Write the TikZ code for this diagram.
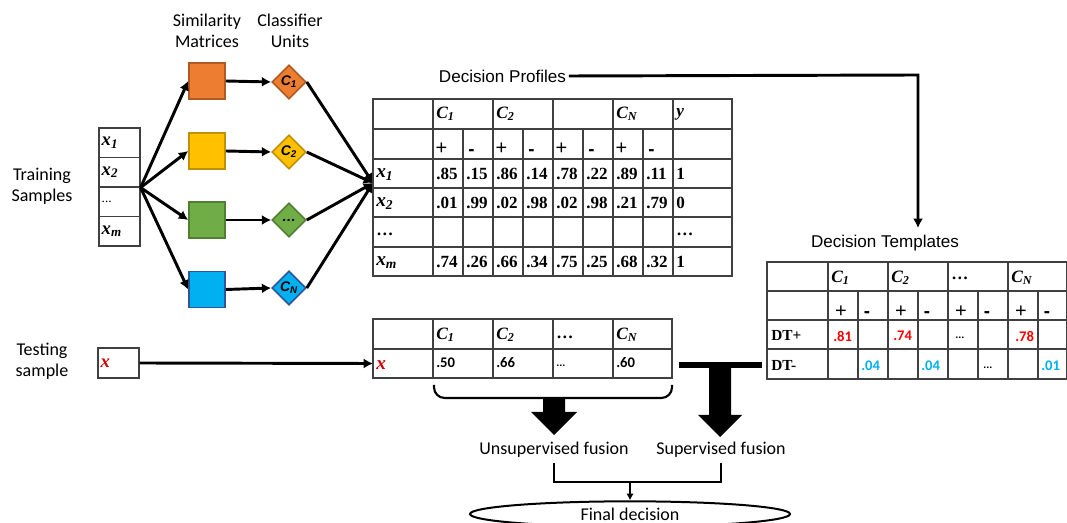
\documentclass[tikz,border=0pt]{standalone}
\usepackage{fontspec}
\setmainfont{Liberation Serif}
\newfontfamily\calib{Carlito}
\newfontfamily\arial{Liberation Sans}
\newfontfamily\tnr{Liberation Serif}
\usetikzlibrary{shapes.geometric,arrows.meta}
\definecolor{orF}{HTML}{ED7D31}\definecolor{orD}{HTML}{AE5A21}
\definecolor{yeF}{HTML}{FFC000}\definecolor{yeD}{HTML}{BF9000}
\definecolor{grF}{HTML}{70AD47}\definecolor{grD}{HTML}{507E32}
\definecolor{blF}{HTML}{00B0F0}\definecolor{blD}{HTML}{2F5597}
\definecolor{valred}{HTML}{FF0000}\definecolor{xred}{HTML}{D00000}
\definecolor{valblue}{HTML}{00B0F0}\definecolor{gridc}{HTML}{404040}
\begin{document}
\begin{tikzpicture}[x=0.75pt,y=-0.75pt,
  lbl/.style={font=\calib\fontsize{13.5}{16}\selectfont, align=center, inner sep=0pt},
  ttl/.style={font=\arial\fontsize{12.8}{15}\selectfont, inner sep=2pt},
  sq/.style={minimum size=27pt, inner sep=0pt, line width=1.2pt},
  dia/.style={diamond, aspect=1, minimum width=25.5pt, minimum height=25.5pt, inner sep=0pt, line width=1.2pt,
    font=\arial\bfseries\itshape\fontsize{10.5}{12}\selectfont},
  arr/.style={line width=2.2pt, -{Latex[length=7pt,width=7.5pt]}},
  gridl/.style={draw=gridc, line width=0.9pt},
  tcell/.style={draw=gridc, line width=0.9pt, minimum height=22.1pt, text width=26.75pt, inner xsep=2pt, inner ysep=0pt, align=left,
    font=\tnr\bfseries\itshape\fontsize{14}{16}\selectfont},
  tv/.style={anchor=west, inner sep=0pt, font=\tnr\bfseries\fontsize{12.8}{14}\selectfont},
  th/.style={anchor=west, inner sep=0pt, font=\tnr\bfseries\itshape\fontsize{13}{14}\selectfont},
  xl/.style={anchor=west, inner sep=0pt, font=\tnr\bfseries\itshape\fontsize{14.5}{16}\selectfont},
  pm/.style={inner sep=0pt, font=\arial\fontsize{15}{16}\selectfont},
  mn/.style={inner sep=0pt, font=\arial\bfseries\fontsize{14}{16}\selectfont},
  sv/.style={anchor=west, inner sep=0pt, font=\calib\bfseries\fontsize{11}{12}\selectfont},
  sdots/.style={anchor=west, inner sep=0pt, font=\calib\bfseries\fontsize{8.5}{9}\selectfont},
  fat/.style={fill=black}]
\useasboundingbox (0,0) rectangle (1067,523);

% titles
\node[lbl] (simt) at (207,31) {Similarity\\Matrices};
\node[lbl] (clat) at (290,31) {Classifier\\Units};
\node[lbl] (trs) at (42,186) {Training\\Samples};
\node[lbl] (tss) at (42,361) {Testing\\sample};

% training table
\node[tcell] (x1) at (119.5,142.75) {x\textsubscript{1}};
\node[tcell] (x2) at (119.5,172.25) {x\textsubscript{2}};
\node[tcell, font=\tnr\fontsize{10}{12}\selectfont] (xd) at (119.5,201.75) {...};
\node[tcell] (xm) at (119.5,231.25) {x\textsubscript{m}};

% similarity matrices
\node[sq, fill=orF, draw=orD] (sq1) at (207,81) {};
\node[sq, fill=yeF, draw=yeD] (sq2) at (207,151) {};
\node[sq, fill=grF, draw=grD] (sq3) at (207,220) {};
\node[sq, fill=blF, draw=blD] (sq4) at (207,289.5) {};

% classifier units
\node[dia, fill=orF, draw=orD] (d1) at (289,82) {C\textsubscript{1}};
\node[dia, fill=yeF, draw=yeD] (d2) at (289,152) {C\textsubscript{2}};
\node[dia, fill=grF, draw=grD] (d3) at (289,220) {\textbf{\dots}};
\node[dia, fill=blF, draw=blD] (d4) at (289,288) {C\textsubscript{N}};

\foreach \k in {1,2,3,4} {
  \draw[arr] (x2.south east) -- (sq\k.west);
  \draw[arr] (sq\k.east) -- (d\k.west);
}
\coordinate (dpin) at (373,183);
\foreach \k in {1,2,3,4} \draw[arr] (d\k.east) -- (dpin);

% decision profiles
\node[ttl] (dp) at (502.5,76) {Decision Profiles};
\coordinate (turn) at (918,75);
\coordinate (dtin) at (918,228);
\draw[arr] (dp.east) -- (turn) -- (dtin);

\draw[gridl] (373,99) rectangle (732,276);
\foreach \yy in {129,159,188,217,247} \draw[gridl] (373,\yy) -- (732,\yy);
\foreach \xx in {433,493,553,613,673} \draw[gridl] (\xx,99) -- (\xx,276);
\foreach \xx in {463,523,583,643} \draw[gridl] (\xx,129) -- (\xx,276);

\node[th] at (436,114) {C\textsubscript{1}};
\node[th] at (496,114) {C\textsubscript{2}};
\node[th] at (616,114) {C\textsubscript{N}};
\node[th] at (676,114) {y};
\foreach \xx in {441.5,501.5,561.5,621.5} \node[pm] at (\xx,149) {+};
\foreach \xx in {471.5,531.5,591.5,651.5} \node[mn] at (\xx,153) {-};
\node[xl] at (376,175) {x\textsubscript{1}};
\node[xl] at (376,204) {x\textsubscript{2}};
\node[tv] at (376,234) {\dots};
\node[xl] at (376,263) {x\textsubscript{m}};
\foreach \v [count=\i from 0] in {.85,.15,.86,.14,.78,.22,.89,.11,1} \node[tv] at (436+30*\i,174) {\v};
\foreach \v [count=\i from 0] in {.01,.99,.02,.98,.02,.98,.21,.79,0} \node[tv] at (436+30*\i,203) {\v};
\node[tv] at (676,234) {\dots};
\foreach \v [count=\i from 0] in {.74,.26,.66,.34,.75,.25,.68,.32,1} \node[tv] at (436+30*\i,262) {\v};

% decision templates
\node[ttl] (dtt) at (885,243) {Decision Templates};
\draw[gridl] (767,262) rectangle (1066.5,379);
\foreach \yy in {291,320,349} \draw[gridl] (767,\yy) -- (1066.5,\yy);
\foreach \xx in {828,888,948,1008} \draw[gridl] (\xx,262) -- (\xx,379);
\foreach \xx in {858,918,978,1038} \draw[gridl] (\xx,291) -- (\xx,379);
\node[th] at (831,278) {C\textsubscript{1}};
\node[th] at (891,278) {C\textsubscript{2}};
\node[tv] at (951,278) {\dots};
\node[th] at (1011,278) {C\textsubscript{N}};
\foreach \xx in {841,901,961,1021} \node[pm] at (\xx,312) {+};
\foreach \xx in {867,927,987,1047} \node[mn] at (\xx,315) {-};
\node[tv, font=\tnr\bfseries\fontsize{11.5}{13}\selectfont] at (771,335) {DT+};
\node[tv, font=\tnr\bfseries\fontsize{11.5}{13}\selectfont] at (771,365) {DT-};
\node[sv, text=valred] at (833,336) {.81};
\node[sv, text=valred] at (893,336) {.74};
\node[sdots] at (955,338) {...};
\node[sv, text=valred] at (1015,336) {.78};
\node[sv, text=valblue] at (861,366) {.04};
\node[sv, text=valblue] at (921,366) {.04};
\node[sdots] at (983,368) {...};
\node[sv, text=valblue] at (1041,366) {.01};

% testing sample
\node[tcell, text=xred, minimum height=22.5pt] (tx) at (118.5,363) {x};
\coordinate (tin) at (373,363.5);
\draw[arr] (tx.east) -- (tin);

\draw[gridl] (373,319) rectangle (672,378);
\draw[gridl] (373,349) -- (672,349);
\foreach \xx in {433,493,553,613} \draw[gridl] (\xx,319) -- (\xx,378);
\node[th] at (436,335) {C\textsubscript{1}};
\node[th] at (496,335) {C\textsubscript{2}};
\node[tv] at (556,337) {\dots};
\node[th] at (616,335) {C\textsubscript{N}};
\node[xl, text=xred] at (376,365) {x};
\node[sv] at (436,363) {.50};
\node[sv] at (496,363) {.66};
\node[sdots] at (556,366) {...};
\node[sv] at (616,363) {.60};

% brace and fusion arrows
\draw[line width=1.6pt, rounded corners=8pt] (434,385) -- (434,398) -- (672,398) -- (672,385);
\fill[fat] (679,362) rectangle (762,368);
\fill[fat] (709,368) -- (731,368) -- (731,415) -- (742,415) -- (720,437) -- (698,415) -- (709,415) -- cycle;
\fill[fat] (543,398) -- (565,398) -- (565,412) -- (577,412) -- (554,435) -- (531,412) -- (543,412) -- cycle;

\node[lbl, minimum height=19.5pt] (uf) at (554,450) {Unsupervised fusion};
\node[lbl, minimum height=19.5pt] (sf) at (721,450) {Supervised fusion};
\coordinate (fjoin) at (630,482);
\draw[line width=2pt] (uf.south) |- (fjoin) -| (sf.south);
\node[ellipse, draw, line width=1.5pt, minimum width=240pt, minimum height=19pt, inner sep=0pt,
  font=\calib\fontsize{13.5}{16}\selectfont] (fd) at (630,514) {Final decision};
\draw[line width=2pt, -{Latex[length=5pt,width=5.5pt]}] (fjoin) -- (fd.north);
\end{tikzpicture}
\end{document}
